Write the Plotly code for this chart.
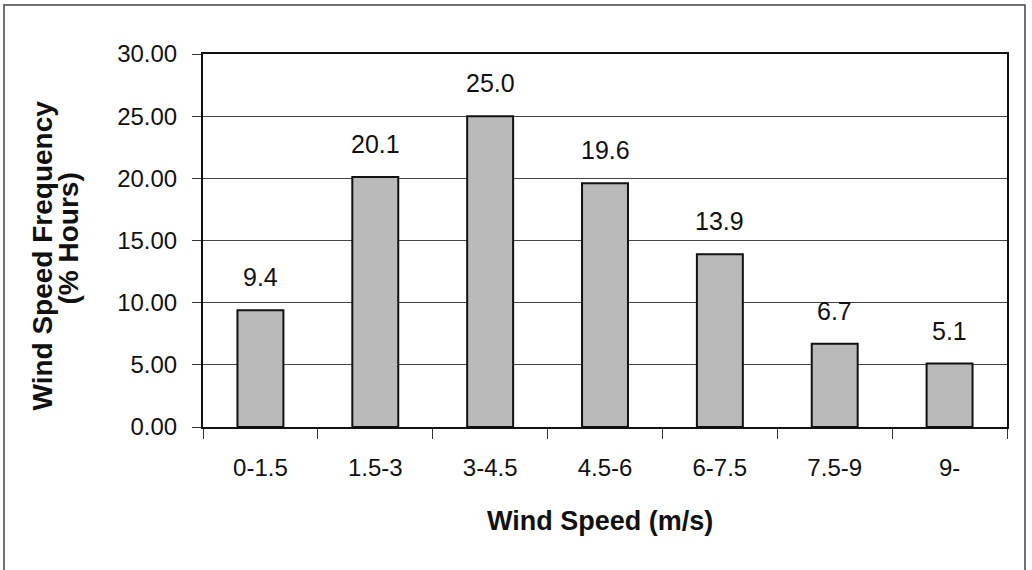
import plotly.graph_objects as go

categories = ["0-1.5", "1.5-3", "3-4.5", "4.5-6", "6-7.5", "7.5-9", "9-"]
frequency = [9.4, 20.1, 25.0, 19.6, 13.9, 6.7, 5.1]
value_labels = ["9.4", "20.1", "25.0", "19.6", "13.9", "6.7", "5.1"]
y_ticks = [0, 5, 10, 15, 20, 25, 30]

FONT = "Liberation Sans, Arial, sans-serif"

fig = go.Figure()
fig.add_trace(go.Bar(
    x=categories, y=frequency, width=0.4,
    marker=dict(color="#bababa", line=dict(color="#111111", width=2)),
    hoverinfo="x+y",
))

annotations = []
for c, v, t in zip(categories, frequency, value_labels):
    annotations.append(dict(x=c, y=v, xref="x", yref="y", text=t, showarrow=False,
                            yanchor="bottom", yshift=17,
                            font=dict(family=FONT, size=25, color="#111111")))

annotations.append(dict(x=0, y=0.5, xref="paper", yref="paper", text="<b>Wind Speed Frequency</b>",
                        showarrow=False, textangle=-90, xanchor="center", yanchor="middle",
                        xshift=-161, yshift=-15, font=dict(family=FONT, size=28, color="#111111")))
annotations.append(dict(x=0, y=0.5, xref="paper", yref="paper", text="<b>(% Hours)</b>",
                        showarrow=False, textangle=-90, xanchor="center", yanchor="middle",
                        xshift=-135, yshift=2, font=dict(family=FONT, size=28, color="#111111")))
annotations.append(dict(x=0.5, y=0, xref="paper", yref="paper", text="<b>Wind Speed (m/s)</b>",
                        showarrow=False, xanchor="center", yanchor="middle",
                        xshift=-5, yshift=-94, font=dict(family=FONT, size=27, color="#111111")))

fig.update_layout(
    width=1032, height=570,
    margin=dict(l=203, r=25, t=54, b=143),
    paper_bgcolor="white", plot_bgcolor="white",
    showlegend=False,
    bargap=0.6,
    annotations=annotations,
    shapes=[dict(type="rect", xref="paper", yref="paper",
                 x0=-0.2475, x1=1.0224, y0=-0.40, y1=1.1314,
                 line=dict(color="#444444", width=1.5), layer="below")],
)

fig.update_xaxes(
    type="category", showgrid=False,
    showline=True, linecolor="#111111", linewidth=2, mirror=True,
    ticks="outside", tickson="boundaries", ticklen=10, tickcolor="#333333", tickwidth=1,
    ticklabelstandoff=18,
    tickfont=dict(family=FONT, size=24, color="#111111"),
)
fig.update_yaxes(
    range=[0, 30], tickvals=y_ticks, tickformat=".2f",
    showgrid=True, gridcolor="#444444", gridwidth=1,
    showline=True, linecolor="#111111", linewidth=2, mirror=True,
    ticks="outside", ticklen=9, tickcolor="#333333", tickwidth=1,
    ticklabelstandoff=10, zeroline=False,
    tickfont=dict(family=FONT, size=24, color="#111111"),
)

fig.write_html("out.html")
